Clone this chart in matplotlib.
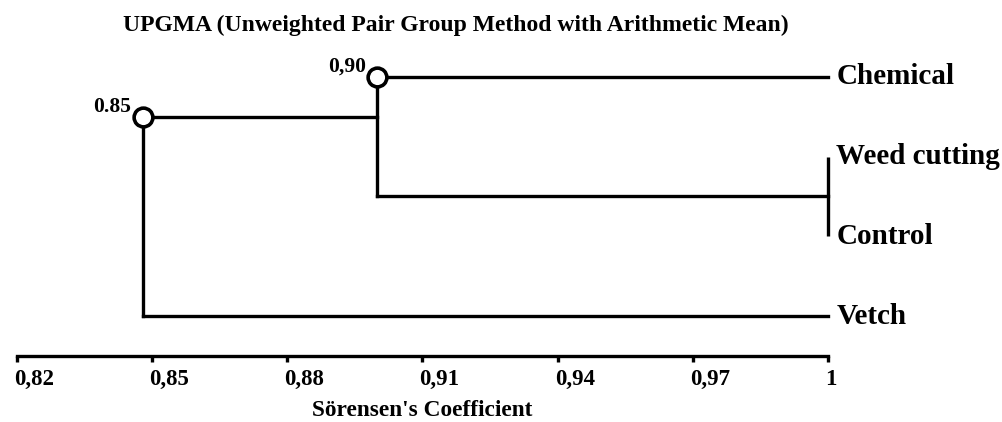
import matplotlib
matplotlib.use("Agg")
import matplotlib.pyplot as plt
import matplotlib.transforms as mtransforms

# ---- data ----
leaves = ["Chemical", "Weed cutting", "Control", "Vetch"]
# merge heights (Sörensen similarity)
merge_wc_control = 1.0        # Weed cutting + Control
merge_chem = 0.90             # Chemical + (Weed cutting, Control)
merge_vetch = 0.848           # Vetch + rest
node_labels = ["0,90", "0.85"]
xticks = [0.82, 0.85, 0.88, 0.91, 0.94, 0.97, 1.0]
xtick_labels = ["0,82", "0,85", "0,88", "0,91", "0,94", "0,97", "1"]
title = "UPGMA (Unweighted Pair Group Method with Arithmetic Mean)"
xlabel = "Sörensen's Coefficient"

plt.rcParams["font.family"] = ["Liberation Serif", "DejaVu Serif"]
plt.rcParams["font.weight"] = "bold"

W, H = 1003, 422
fig = plt.figure(figsize=(W / 100, H / 100), dpi=100)
ax = fig.add_axes([17 / W, 66 / H, (828 - 17) / W, 327 / H])
ax.set_xlim(0.82, 1.0)
ax.set_ylim(3.5, -0.6)

lw = 2.4
col = "black"
ypos = {name: i for i, name in enumerate(leaves)}

# cluster Weed cutting + Control
y_w, y_c = ypos["Weed cutting"], ypos["Control"]
ax.plot([merge_wc_control, merge_wc_control], [y_w, y_c], color=col, lw=lw, solid_capstyle="butt", clip_on=False)
y_wc = (y_w + y_c) / 2

# cluster Chemical + (WC)
y_ch = ypos["Chemical"]
ax.plot([merge_chem, 1.0], [y_ch, y_ch], color=col, lw=lw, clip_on=False)
ax.plot([merge_chem, merge_wc_control], [y_wc, y_wc], color=col, lw=lw, clip_on=False)
ax.plot([merge_chem, merge_chem], [y_ch, y_wc], color=col, lw=lw, clip_on=False)
y_attach = y_ch + (y_wc - y_ch) / 3

# cluster Vetch + rest
y_v = ypos["Vetch"]
ax.plot([merge_vetch, merge_chem], [y_attach, y_attach], color=col, lw=lw, clip_on=False)
ax.plot([merge_vetch, 1.0], [y_v, y_v], color=col, lw=lw, clip_on=False)
ax.plot([merge_vetch, merge_vetch], [y_attach, y_v], color=col, lw=lw, clip_on=False)

# nodes
node_x = [merge_chem, merge_vetch]
node_y = [y_ch, y_attach]
ax.plot(node_x, node_y, "o", ms=13.5, mfc="white", mec=col, mew=2.6, clip_on=False, zorder=5)
for nx, ny, lab in zip(node_x, node_y, node_labels):
    ax.annotate(lab, (nx, ny), xytext=(-8.5, 3.5), textcoords="offset points",
                ha="right", va="baseline", fontsize=15.5, fontweight="bold")

# leaf labels
for name in leaves:
    ax.annotate(name, (1.0, ypos[name]), xytext=(6, 0), textcoords="offset points",
                ha="left", va="center", fontsize=21, fontweight="bold", annotation_clip=False)

# axes styling
for s in ["top", "right", "left"]:
    ax.spines[s].set_visible(False)
ax.spines["bottom"].set_linewidth(lw)
ax.set_yticks([])
ax.set_xticks(xticks)
ax.set_xticklabels(xtick_labels, fontsize=16.5, fontweight="bold")
ax.tick_params(axis="x", direction="out", length=4.5, width=lw, pad=5)
offset = mtransforms.ScaledTranslation(-3 / 100, 0, fig.dpi_scale_trans)
for lab in ax.get_xticklabels():
    lab.set_horizontalalignment("left")
    lab.set_transform(lab.get_transform() + offset)

ax.set_xlabel(xlabel, fontsize=16.8, fontweight="bold")
ax.xaxis.set_label_coords(0.5, -0.168)
ax.xaxis.label.set_verticalalignment("center")

fig.text(456 / W, 1 - 25 / H, title, ha="center", va="center", fontsize=17, fontweight="bold")

fig.savefig("out.png", dpi=100)
